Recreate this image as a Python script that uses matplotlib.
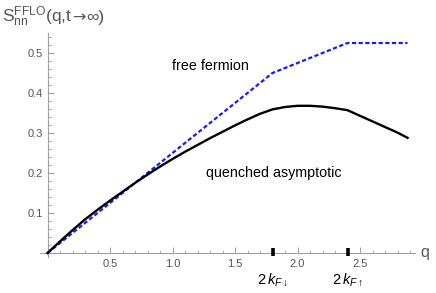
import matplotlib
matplotlib.use("Agg")
import matplotlib.pyplot as plt
from matplotlib.ticker import MultipleLocator, FixedLocator

# ---- data ----
q_quench = [0.0, 0.1, 0.2, 0.3, 0.4, 0.5, 0.6, 0.7, 0.8, 0.9, 1.0, 1.1, 1.2, 1.3,
            1.4, 1.5, 1.6, 1.7, 1.8, 1.9, 2.0, 2.1, 2.2, 2.3, 2.4, 2.5, 2.6,
            2.7, 2.8, 2.88]
s_quench = [0.0, 0.029, 0.057, 0.084, 0.108, 0.131, 0.153, 0.175, 0.196, 0.216,
            0.235, 0.253, 0.270, 0.287, 0.303, 0.319, 0.334, 0.348, 0.359, 0.365,
            0.368, 0.368, 0.366, 0.362, 0.357, 0.343, 0.329, 0.315, 0.301, 0.288]
q_free = [0.0, 1.8, 2.4, 2.88]
s_free = [0.0, 0.45, 0.525, 0.525]
x_major = [0.5, 1.0, 1.5, 2.0, 2.5]
x_major_labels = ["0.5", "1.0", "1.5", "2.0", "2.5"]
y_major = [0.1, 0.2, 0.3, 0.4, 0.5]
y_major_labels = ["0.1", "0.2", "0.3", "0.4", "0.5"]
kf_ticks = [1.8, 2.4]
kf_labels = [r"$2\,k_{F\downarrow}$", r"$2\,k_{F\uparrow}$"]

plt.rcParams['font.family'] = ['Liberation Sans', 'DejaVu Sans']
plt.rcParams['mathtext.fontset'] = 'custom'
plt.rcParams['mathtext.rm'] = 'Liberation Sans'
plt.rcParams['mathtext.it'] = 'Liberation Sans:italic'

fig = plt.figure(figsize=(4.36, 2.93), dpi=100)
ax = fig.add_axes([40/436, 36/293, 375/436, 224/293])
ax.set_xlim(-0.06, 2.94)
ax.set_ylim(-0.01, 0.55)

gray = "#a0a0a0"
tcol = "#555555"
for s in ["top", "right"]:
    ax.spines[s].set_visible(False)
ax.spines["left"].set_position(("data", 0))
ax.spines["bottom"].set_position(("data", 0))
ax.spines["left"].set_color(gray)
ax.spines["bottom"].set_color(gray)
ax.spines["left"].set_linewidth(0.8)
ax.spines["bottom"].set_linewidth(0.8)

ax.xaxis.set_major_locator(FixedLocator(x_major))
ax.set_xticklabels(x_major_labels)
ax.xaxis.set_minor_locator(MultipleLocator(0.1))
ax.yaxis.set_major_locator(FixedLocator(y_major))
ax.set_yticklabels(y_major_labels)
ax.yaxis.set_minor_locator(MultipleLocator(0.02))
ax.tick_params(axis="x", which="major", direction="in", length=4, width=0.7,
               color=gray, labelcolor=tcol, labelsize=8, pad=4)
ax.tick_params(axis="x", which="minor", direction="in", length=2.3, width=0.6, color=gray)
ax.tick_params(axis="y", which="major", direction="in", length=4, width=0.7,
               color=gray, labelcolor=tcol, labelsize=8, pad=3)
ax.tick_params(axis="y", which="minor", direction="in", length=2.3, width=0.6, color=gray)

ax.plot(q_free, s_free, color="#1a1aff", lw=1.6, linestyle=(0, (1.9, 1.1)),
        dash_capstyle="butt", zorder=3)
ax.plot(q_quench, s_quench, color="black", lw=1.7, zorder=4)

# special kF ticks
ax.vlines(kf_ticks, -0.007, 0.013, color="black", lw=2.6, zorder=5, clip_on=False)
for xk, lab in zip(kf_ticks, kf_labels):
    ax.text(xk, -0.066, lab, ha="center", va="center", fontsize=10.5, color="black")

ax.text(1.30, 0.467, "free fermion", ha="center", va="center", fontsize=10.3)
ax.text(1.81, 0.20, "quenched asymptotic", ha="center", va="center", fontsize=10.3)

fig.text(425/436, 1 - 252/293, "q", ha="center", va="center", fontsize=11.5, color=tcol)

# y-axis title, assembled in pieces so the arrow uses DejaVu Sans
t1 = fig.text(2/436, 1 - 22/293, r"$\mathregular{S_{nn}^{FFLO}}$(q,t",
              ha="left", va="baseline", fontsize=12.5, color=tcol)
t2 = fig.text(0, 0, "→", fontsize=11.5, color=tcol, family=["DejaVu Sans"],
              ha="left", va="baseline")
t2.set_position((0, 0))
fig.canvas.draw()
r = fig.canvas.get_renderer()
bb1 = t1.get_window_extent(r)
fw, fh = fig.get_size_inches() * fig.dpi
t2.set_position(((bb1.x1 + 0.3) / fw, 1 - 22/293))
bb2 = t2.get_window_extent(r)
fig.text((bb2.x1 + 0.3) / fw, 1 - 22/293, "∞)", ha="left", va="baseline",
         fontsize=12.5, color=tcol)

fig.savefig("out.png", dpi=100)
